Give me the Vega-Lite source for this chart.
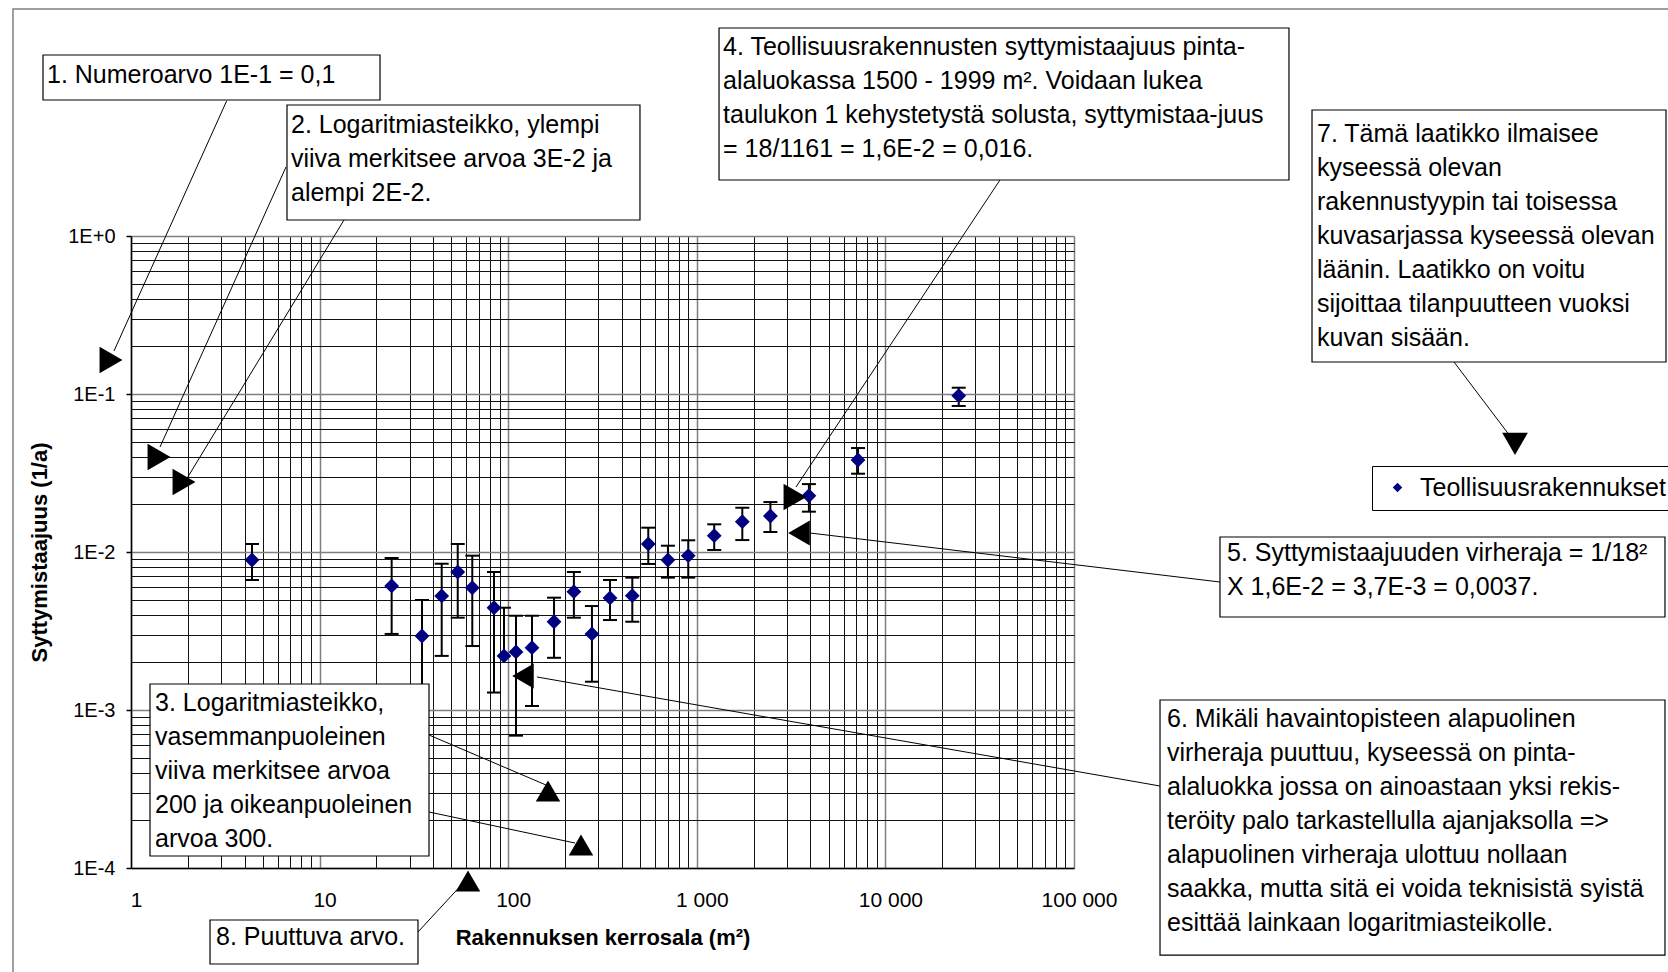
{
  "$schema": "https://vega.github.io/schema/vega-lite/v6.json",
  "width": 943,
  "height": 632,
  "autosize": {"type": "none"},
  "padding": {"left": 131, "top": 236, "right": 594, "bottom": 104},
  "background": "white",
  "config": {"font": "Liberation Sans", "view": {"stroke": null}},
  "resolve": {"axis": {"x": "independent", "y": "independent"}},
  "datasets": {
    "pts": [
      {"area": 4.38, "freq": 0.0089, "lo": 0.00665, "hi": 0.01124, "series": "Teollisuusrakennukset"},
      {"area": 24.1, "freq": 0.0061, "lo": 0.00303, "hi": 0.00916, "series": "Teollisuusrakennukset"},
      {"area": 34.9, "freq": 0.00294, "lo": 0.00083, "hi": 0.00497, "series": "Teollisuusrakennukset"},
      {"area": 44.4, "freq": 0.00527, "lo": 0.0022, "hi": 0.00843, "series": "Teollisuusrakennukset"},
      {"area": 54, "freq": 0.00747, "lo": 0.00384, "hi": 0.01124, "series": "Teollisuusrakennukset"},
      {"area": 64.5, "freq": 0.00594, "lo": 0.00254, "hi": 0.00948, "series": "Teollisuusrakennukset"},
      {"area": 84.1, "freq": 0.00444, "lo": 0.00129, "hi": 0.00747, "series": "Teollisuusrakennukset"},
      {"area": 95, "freq": 0.0022, "lo": null, "hi": 0.00444, "series": "Teollisuusrakennukset"},
      {"area": 110, "freq": 0.00233, "lo": 0.000688, "hi": 0.00395, "series": "Teollisuusrakennukset"},
      {"area": 133.7, "freq": 0.00248, "lo": 0.00106, "hi": 0.00395, "series": "Teollisuusrakennukset"},
      {"area": 175, "freq": 0.00362, "lo": 0.00214, "hi": 0.00514, "series": "Teollisuusrakennukset"},
      {"area": 223, "freq": 0.00561, "lo": 0.00384, "hi": 0.00747, "series": "Teollisuusrakennukset"},
      {"area": 278, "freq": 0.00303, "lo": 0.00151, "hi": 0.00455, "series": "Teollisuusrakennukset"},
      {"area": 346.6, "freq": 0.00512, "lo": 0.00371, "hi": 0.00665, "series": "Teollisuusrakennukset"},
      {"area": 455, "freq": 0.00529, "lo": 0.00362, "hi": 0.00688, "series": "Teollisuusrakennukset"},
      {"area": 553, "freq": 0.01124, "lo": 0.0084, "hi": 0.01425, "series": "Teollisuusrakennukset"},
      {"area": 703, "freq": 0.0089, "lo": 0.00688, "hi": 0.01096, "series": "Teollisuusrakennukset"},
      {"area": 901, "freq": 0.00948, "lo": 0.00688, "hi": 0.01186, "series": "Teollisuusrakennukset"},
      {"area": 1237, "freq": 0.01268, "lo": 0.0103, "hi": 0.01497, "series": "Teollisuusrakennukset"},
      {"area": 1743, "freq": 0.01555, "lo": 0.0119, "hi": 0.01906, "series": "Teollisuusrakennukset"},
      {"area": 2456, "freq": 0.0169, "lo": 0.01338, "hi": 0.0207, "series": "Teollisuusrakennukset"},
      {"area": 3930, "freq": 0.0227, "lo": 0.018, "hi": 0.0269, "series": "Teollisuusrakennukset"},
      {"area": 7160, "freq": 0.0382, "lo": 0.0313, "hi": 0.0455, "series": "Teollisuusrakennukset"},
      {"area": 24480, "freq": 0.0976, "lo": 0.084, "hi": 0.1096, "series": "Teollisuusrakennukset"}
    ],
    "boxes": [
      {"x1": 0.3415, "x2": 20.91, "y1": 13.98, "y2": 7.258},
      {"x1": 6.716, "x2": 499.7, "y1": 6.748, "y2": 1.2625},
      {"x1": 1.261, "x2": 38.03, "y1": 0.001461, "y2": 0.0001191},
      {"x1": 1311.9, "x2": 1380000, "y1": 20.72, "y2": 2.262},
      {"x1": 594300, "x2": 136000000, "y1": 0.01244, "y2": 0.003878},
      {"x1": 285800, "x2": 136000000, "y1": 0.001157, "y2": 0.00002813},
      {"x1": 1828000, "x2": 137700000, "y1": 6.273, "y2": 0.1594},
      {"x1": 2.624, "x2": 33.24, "y1": 0.00004687, "y2": 0.00002469}
    ],
    "notes": [
      {"x": 0.3585, "y": 9.298, "label": "1. Numeroarvo 1E-1 = 0,1"},
      {"x": 7.053, "y": 4.486, "label": "2. Logaritmiasteikko, ylempi\nviiva merkitsee arvoa 3E-2 ja\nalempi 2E-2."},
      {"x": 1.341, "y": 0.0009856, "label": "3. Logaritmiasteikko,\nvasemmanpuoleinen\nviiva merkitsee arvoa\n200 ja oikeanpuoleinen\narvoa 300."},
      {"x": 1377.5, "y": 13.98, "label": "4. Teollisuusrakennusten syttymistaajuus pinta-\nalaluokassa 1500 - 1999 m². Voidaan lukea\ntaulukon 1 kehystetystä solusta, syttymistaa-juus\n= 18/1161 = 1,6E-2 = 0,016."},
      {"x": 647500, "y": 0.00877, "label": "5. Syttymistaajuuden virheraja = 1/18²\nX 1,6E-2 = 3,7E-3 = 0,0037."},
      {"x": 311200, "y": 0.0007807, "label": "6. Mikäli havaintopisteen alapuolinen\nvirheraja puuttuu, kyseessä on pinta-\nalaluokka jossa on ainoastaan yksi rekis-\nteröity palo tarkastellulla ajanjaksolla =>\nalapuolinen virheraja ulottuu nollaan\nsaakka, mutta sitä ei voida teknisistä syistä\nesittää lainkaan logaritmiasteikolle."},
      {"x": 1943000, "y": 3.935, "label": "7. Tämä laatikko ilmaisee\nkyseessä olevan\nrakennustyypin tai toisessa\nkuvasarjassa kyseessä olevan\nläänin. Laatikko on voitu\nsijoittaa tilanpuutteen vuoksi\nkuvan sisään."},
      {"x": 2.823, "y": 0.00003256, "label": "8. Puuttuva arvo."}
    ],
    "leaders": [
      {"x1": 3.213, "y1": 7.152, "x2": 0.8126, "y2": 0.1872},
      {"x1": 6.635, "y1": 2.734, "x2": 1.425, "y2": 0.04619},
      {"x1": 13.47, "y1": 1.2625, "x2": 1.957, "y2": 0.02855},
      {"x1": 38.03, "y1": 0.0006947, "x2": 158.6, "y2": 0.0003352},
      {"x1": 38.03, "y1": 0.0002262, "x2": 226.1, "y2": 0.0001439},
      {"x1": 40510, "y1": 2.262, "x2": 3357, "y2": 0.02579},
      {"x1": 3983, "y1": 0.01319, "x2": 594300, "y2": 0.006458},
      {"x1": 142.1, "y1": 0.001618, "x2": 285800, "y2": 0.0003304},
      {"x1": 10350000, "y1": 0.1594, "x2": 21270000, "y2": 0.05115},
      {"x1": 33.24, "y1": 0.00003935, "x2": 59.74, "y2": 0.00008397}
    ],
    "heads": [
      {"x": 0.7834, "y": 0.1641, "dir": "right"},
      {"x": 1.408, "y": 0.03994, "dir": "right"},
      {"x": 1.91, "y": 0.02773, "dir": "right"},
      {"x": 162.6, "y": 0.0003072, "dir": "up"},
      {"x": 243.2, "y": 0.0001398, "dir": "up"},
      {"x": 3316, "y": 0.02229, "dir": "right"},
      {"x": 3483, "y": 0.01319, "dir": "left"},
      {"x": 119.8, "y": 0.001641, "dir": "left"},
      {"x": 21790000, "y": 0.04826, "dir": "down"},
      {"x": 61.22, "y": 0.00008274, "dir": "up"}
    ],
    "frame": [
      {"x1": 0.2367, "x2": 208000000, "y1": 27.34, "y2": 0.00001462}
    ]
  },
  "layer": [
    {
      "data": {"name": "pts"},
      "mark": {"type": "rule", "color": "#000", "strokeWidth": 2},
      "encoding": {
        "x": {
          "field": "area", "type": "quantitative",
          "scale": {"type": "log", "domain": [1, 100000]},
          "axis": {
            "values": [1,2,3,4,5,6,7,8,9,10,20,30,40,50,60,70,80,90,100,200,300,400,500,600,700,800,900,1000,2000,3000,4000,5000,6000,7000,8000,9000,10000,20000,30000,40000,50000,60000,70000,80000,90000,100000],
            "title": "Rakennuksen kerrosala (m²)",
            "titleFont": "Liberation Sans", "titleFontSize": 22, "titleFontWeight": "bold", "titleColor": "#000", "titlePadding": 17,
            "labelFont": "Liberation Sans", "labelFontSize": 21, "labelColor": "#000", "labelPadding": 21, "labelOffset": 5,
            "labelFlush": false, "labelOverlap": false,
            "labelExpr": "datum.value == 1000 ? '1 000' : datum.value == 10000 ? '10 000' : datum.value == 100000 ? '100 000' : (datum.value == 1 || datum.value == 10 || datum.value == 100) ? '' + datum.value : ''",
            "ticks": false, "tickSize": 0,
            "domainColor": "#000", "domainWidth": 1.5,
            "grid": true, "gridOpacity": 1,
            "gridColor": {"condition": {"test": "abs(log(datum.value)/LN10 - round(log(datum.value)/LN10)) < 0.001", "value": "#7f7f7f"}, "value": "#111111"},
            "gridWidth": {"condition": {"test": "abs(log(datum.value)/LN10 - round(log(datum.value)/LN10)) < 0.001", "value": 1.5}, "value": 1}
          }
        },
        "y": {
          "field": "freq", "type": "quantitative",
          "scale": {"type": "log", "domain": [0.0001, 1]},
          "axis": {
            "values": [0.0001,0.0002,0.0003,0.0004,0.0005,0.0006,0.0007,0.0008,0.0009,0.001,0.002,0.003,0.004,0.005,0.006,0.007,0.008,0.009,0.01,0.02,0.03,0.04,0.05,0.06,0.07,0.08,0.09,0.1,0.2,0.3,0.4,0.5,0.6,0.7,0.8,0.9,1],
            "title": "Syttymistaajuus (1/a)",
            "titleFont": "Liberation Sans", "titleFontSize": 22, "titleFontWeight": "bold", "titleColor": "#000", "titlePadding": 16,
            "labelFont": "Liberation Sans", "labelFontSize": 20, "labelColor": "#000", "labelPadding": 11,
            "labelOverlap": false,
            "labelExpr": "abs(log(datum.value)/LN10 - round(log(datum.value)/LN10)) < 0.001 ? '1E' + (round(log(datum.value)/LN10) >= 0 ? '+' : '') + round(log(datum.value)/LN10) : ''",
            "ticks": true, "tickSize": 5, "tickColor": "#000", "tickWidth": 1.5,
            "tickOpacity": {"condition": {"test": "abs(log(datum.value)/LN10 - round(log(datum.value)/LN10)) < 0.001", "value": 1}, "value": 0},
            "domainColor": "#000", "domainWidth": 1.5,
            "grid": true, "gridOpacity": 1,
            "gridColor": {"condition": {"test": "abs(log(datum.value)/LN10 - round(log(datum.value)/LN10)) < 0.001", "value": "#7f7f7f"}, "value": "#111111"},
            "gridWidth": {"condition": {"test": "abs(log(datum.value)/LN10 - round(log(datum.value)/LN10)) < 0.001", "value": 1.5}, "value": 1}
          }
        },
        "y2": {"field": "hi"}
      }
    },
    {
      "data": {"name": "pts"},
      "mark": {"type": "rule", "color": "#000", "strokeWidth": 2},
      "encoding": {
        "x": {"field": "area", "type": "quantitative", "scale": {"type": "log", "domain": [1, 100000]}, "axis": null},
        "y": {"field": "lo", "type": "quantitative", "scale": {"type": "log", "domain": [0.0001, 1]}, "axis": null},
        "y2": {"field": "freq"}
      }
    },
    {
      "data": {"name": "pts"},
      "mark": {"type": "tick", "orient": "horizontal", "size": 14, "thickness": 2, "color": "#000", "opacity": 1},
      "encoding": {
        "x": {"field": "area", "type": "quantitative", "scale": {"type": "log", "domain": [1, 100000]}, "axis": null},
        "y": {"field": "hi", "type": "quantitative", "scale": {"type": "log", "domain": [0.0001, 1]}, "axis": null}
      }
    },
    {
      "data": {"name": "pts"},
      "mark": {"type": "tick", "orient": "horizontal", "size": 14, "thickness": 2, "color": "#000", "opacity": 1},
      "encoding": {
        "x": {"field": "area", "type": "quantitative", "scale": {"type": "log", "domain": [1, 100000]}, "axis": null},
        "y": {"field": "lo", "type": "quantitative", "scale": {"type": "log", "domain": [0.0001, 1]}, "axis": null}
      }
    },
    {
      "data": {"name": "pts"},
      "mark": {"type": "point", "shape": "diamond", "filled": true, "size": 220, "opacity": 1},
      "encoding": {
        "x": {"field": "area", "type": "quantitative", "scale": {"type": "log", "domain": [1, 100000]}, "axis": null},
        "y": {"field": "freq", "type": "quantitative", "scale": {"type": "log", "domain": [0.0001, 1]}, "axis": null},
        "color": {
          "field": "series", "type": "nominal",
          "scale": {"range": ["#000080"]},
          "legend": {
            "orient": "none", "legendX": 1241, "legendY": 230, "title": null,
            "padding": 9, "strokeColor": "#000", "fillColor": "#fff",
            "symbolType": "diamond", "symbolSize": 90, "symbolOffset": 4, "symbolStrokeWidth": 0,
            "labelOffset": 10, "labelLimit": 0, "labelFont": "Liberation Sans", "labelFontSize": 25, "labelColor": "#000"
          }
        }
      }
    },
    {
      "data": {"name": "leaders"},
      "mark": {"type": "rule", "color": "#000", "strokeWidth": 1},
      "encoding": {
        "x": {"field": "x1", "type": "quantitative", "scale": {"type": "log", "domain": [1, 100000]}, "axis": null},
        "y": {"field": "y1", "type": "quantitative", "scale": {"type": "log", "domain": [0.0001, 1]}, "axis": null},
        "x2": {"field": "x2"},
        "y2": {"field": "y2"}
      }
    },
    {
      "data": {"name": "heads"},
      "transform": [{"filter": "datum.dir == 'right'"}],
      "mark": {"type": "point", "shape": "triangle-right", "filled": true, "color": "#000", "size": 700, "opacity": 1},
      "encoding": {
        "x": {"field": "x", "type": "quantitative", "scale": {"type": "log", "domain": [1, 100000]}, "axis": null},
        "y": {"field": "y", "type": "quantitative", "scale": {"type": "log", "domain": [0.0001, 1]}, "axis": null}
      }
    },
    {
      "data": {"name": "heads"},
      "transform": [{"filter": "datum.dir == 'left'"}],
      "mark": {"type": "point", "shape": "triangle-left", "filled": true, "color": "#000", "size": 620, "opacity": 1},
      "encoding": {
        "x": {"field": "x", "type": "quantitative", "scale": {"type": "log", "domain": [1, 100000]}, "axis": null},
        "y": {"field": "y", "type": "quantitative", "scale": {"type": "log", "domain": [0.0001, 1]}, "axis": null}
      }
    },
    {
      "data": {"name": "heads"},
      "transform": [{"filter": "datum.dir == 'up'"}],
      "mark": {"type": "point", "shape": "triangle-up", "filled": true, "color": "#000", "size": 600, "opacity": 1},
      "encoding": {
        "x": {"field": "x", "type": "quantitative", "scale": {"type": "log", "domain": [1, 100000]}, "axis": null},
        "y": {"field": "y", "type": "quantitative", "scale": {"type": "log", "domain": [0.0001, 1]}, "axis": null}
      }
    },
    {
      "data": {"name": "heads"},
      "transform": [{"filter": "datum.dir == 'down'"}],
      "mark": {"type": "point", "shape": "triangle-down", "filled": true, "color": "#000", "size": 660, "opacity": 1},
      "encoding": {
        "x": {"field": "x", "type": "quantitative", "scale": {"type": "log", "domain": [1, 100000]}, "axis": null},
        "y": {"field": "y", "type": "quantitative", "scale": {"type": "log", "domain": [0.0001, 1]}, "axis": null}
      }
    },
    {
      "data": {"name": "boxes"},
      "mark": {"type": "rect", "fill": "#fff", "stroke": "#000", "strokeWidth": 1.2},
      "encoding": {
        "x": {"field": "x1", "type": "quantitative", "scale": {"type": "log", "domain": [1, 100000]}, "axis": null},
        "x2": {"field": "x2"},
        "y": {"field": "y1", "type": "quantitative", "scale": {"type": "log", "domain": [0.0001, 1]}, "axis": null},
        "y2": {"field": "y2"}
      }
    },
    {
      "data": {"name": "notes"},
      "mark": {"type": "text", "align": "left", "baseline": "alphabetic", "lineBreak": "\n", "lineHeight": 34, "font": "Liberation Sans", "fontSize": 25, "color": "#000"},
      "encoding": {
        "x": {"field": "x", "type": "quantitative", "scale": {"type": "log", "domain": [1, 100000]}, "axis": null},
        "y": {"field": "y", "type": "quantitative", "scale": {"type": "log", "domain": [0.0001, 1]}, "axis": null},
        "text": {"field": "label", "type": "nominal"}
      }
    },
    {
      "data": {"name": "frame"},
      "mark": {"type": "rect", "fill": null, "fillOpacity": 0, "stroke": "#808080", "strokeWidth": 1.5},
      "encoding": {
        "x": {"field": "x1", "type": "quantitative", "scale": {"type": "log", "domain": [1, 100000]}, "axis": null},
        "x2": {"field": "x2"},
        "y": {"field": "y1", "type": "quantitative", "scale": {"type": "log", "domain": [0.0001, 1]}, "axis": null},
        "y2": {"field": "y2"}
      }
    }
  ]
}
